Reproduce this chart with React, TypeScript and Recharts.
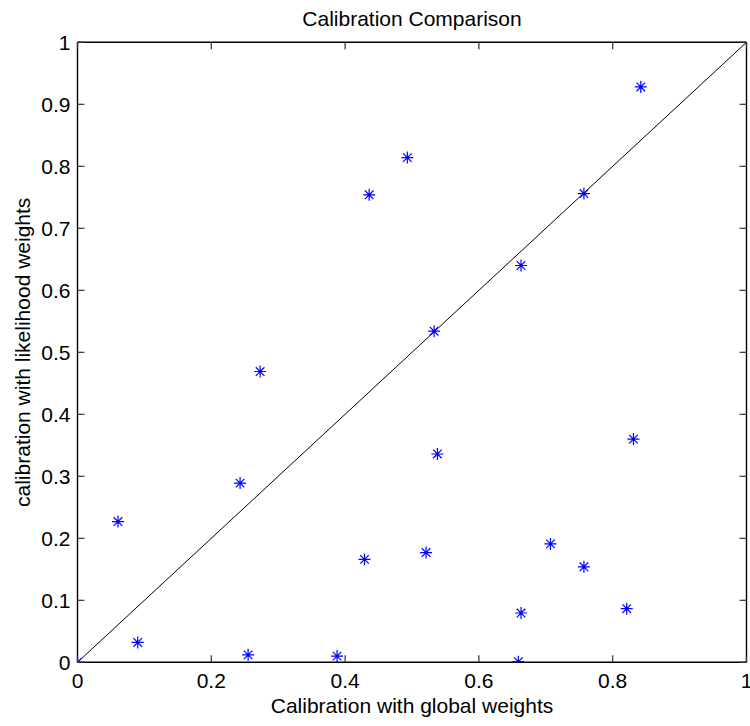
import {
  Scatter,
  ScatterChart,
  XAxis,
  YAxis,
} from "recharts";

// calibration with global weights (x) vs likelihood weights (y)
const globalW = [
  0.842, 0.493, 0.436, 0.757, 0.663, 0.533, 0.273, 0.243, 0.0605, 0.429, 0.09,
  0.255, 0.388, 0, 0.538, 0.831, 0.521, 0.707, 0.757, 0.663, 0.821, 0.659,
];
const likelihoodW = [
  0.928, 0.814, 0.754, 0.756, 0.64, 0.534, 0.469, 0.289, 0.227, 0.166, 0.032,
  0.012, 0.01, 0, 0.336, 0.36, 0.177, 0.191, 0.154, 0.0795, 0.0865, 0.001,
];
const xTicks = [0, 0.2, 0.4, 0.6, 0.8, 1];
const yTicks = [0, 0.1, 0.2, 0.3, 0.4, 0.5, 0.6, 0.7, 0.8, 0.9, 1];
const diagonal = [0, 1];

const points = globalW.map((x, i) => ({ x, y: likelihoodW[i] }));
const diagPoints = diagonal.map((v) => ({ x: v, y: v }));

const font = "'Liberation Sans', Arial, Helvetica, sans-serif";
const labelStyle = { fill: "#000", fontSize: 21, fontFamily: font };
const boxLine = { stroke: "#000", strokeWidth: 1.4 };
const TICK_LEN = 7;
const X_MARGIN = 11;
const Y_MARGIN = 7;
const tickColor = "#333";

// matlab-style ticks: short marks pointing into the box, labels outside
const BottomTick = (props: any) => {
  const { x, y, payload } = props;
  const axisY = y - X_MARGIN;
  return (
    <g>
      <line x1={x} x2={x} y1={axisY} y2={axisY - TICK_LEN} stroke={tickColor} strokeWidth={1.2} />
      <text x={x} y={y} dy="0.71em" textAnchor="middle" fill="#000" fontSize={21} fontFamily={font}>
        {payload.value}
      </text>
    </g>
  );
};

const LeftTick = (props: any) => {
  const { x, y, payload } = props;
  const axisX = x + Y_MARGIN;
  return (
    <g>
      <line x1={axisX} x2={axisX + TICK_LEN} y1={y} y2={y} stroke={tickColor} strokeWidth={1.2} />
      <text x={x} y={y} dy="0.355em" textAnchor="end" fill="#000" fontSize={21} fontFamily={font}>
        {payload.value}
      </text>
    </g>
  );
};

const TopTick = (props: any) => {
  const { x, y } = props;
  return <line x1={x} x2={x} y1={y} y2={y + TICK_LEN} stroke={tickColor} strokeWidth={1.2} />;
};

const RightTick = (props: any) => {
  const { x, y } = props;
  return <line x1={x} x2={x - TICK_LEN} y1={y} y2={y} stroke={tickColor} strokeWidth={1.2} />;
};

const Asterisk = (props: any) => {
  const { cx, cy } = props;
  const a = 6;
  const d = 4.3;
  return (
    <path
      d={`M${cx - a},${cy}H${cx + a}M${cx},${cy - a}V${cy + a}M${cx - d},${cy - d}L${cx + d},${cy + d}M${cx - d},${cy + d}L${cx + d},${cy - d}`}
      stroke="#0000ff"
      strokeWidth={1.2}
      fill="none"
    />
  );
};

const NoDot = () => <g />;

export default function App() {
  return (
    <div style={{ position: "absolute", left: 0, top: 0 }}>
      <ScatterChart
        width={750}
        height={726}
        margin={{ top: 41.3, right: 2.5, bottom: 33.7, left: 17.5 }}
      >
        <XAxis
          type="number"
          dataKey="x"
          domain={[0, 1]}
          ticks={xTicks}
          interval={0}
          height={30}
          tickSize={0}
          tickMargin={X_MARGIN}
          tick={BottomTick}
          axisLine={boxLine}
          tickLine={false}
          allowDataOverflow
          label={{
            value: "Calibration with global weights",
            position: "bottom",
            offset: 6,
            style: labelStyle,
          }}
        />
        <XAxis
          xAxisId="top"
          orientation="top"
          type="number"
          dataKey="x"
          domain={[0, 1]}
          ticks={xTicks}
          interval={0}
          height={1}
          tickSize={0}
          tickMargin={0}
          tick={TopTick}
          axisLine={boxLine}
          tickLine={false}
          allowDataOverflow
          label={{
            value: "Calibration Comparison",
            position: "top",
            offset: 15,
            style: labelStyle,
          }}
        />
        <YAxis
          type="number"
          dataKey="y"
          domain={[0, 1]}
          ticks={yTicks}
          interval={0}
          width={60}
          tickSize={0}
          tickMargin={Y_MARGIN}
          tick={LeftTick}
          axisLine={boxLine}
          tickLine={false}
          allowDataOverflow
          label={{
            value: "calibration with likelihood weights",
            angle: -90,
            position: "insideLeft",
            offset: 5,
            style: { ...labelStyle, textAnchor: "middle" },
          }}
        />
        <YAxis
          yAxisId="right"
          orientation="right"
          type="number"
          dataKey="y"
          domain={[0, 1]}
          ticks={yTicks}
          interval={0}
          width={1}
          tickSize={0}
          tickMargin={0}
          tick={RightTick}
          axisLine={boxLine}
          tickLine={false}
          allowDataOverflow
        />
        <Scatter
          data={diagPoints}
          xAxisId="top"
          yAxisId="right"
          line={{ stroke: "#000", strokeWidth: 1 }}
          shape={NoDot}
          isAnimationActive={false}
        />
        <Scatter data={points} shape={Asterisk} isAnimationActive={false} />
      </ScatterChart>
    </div>
  );
}
